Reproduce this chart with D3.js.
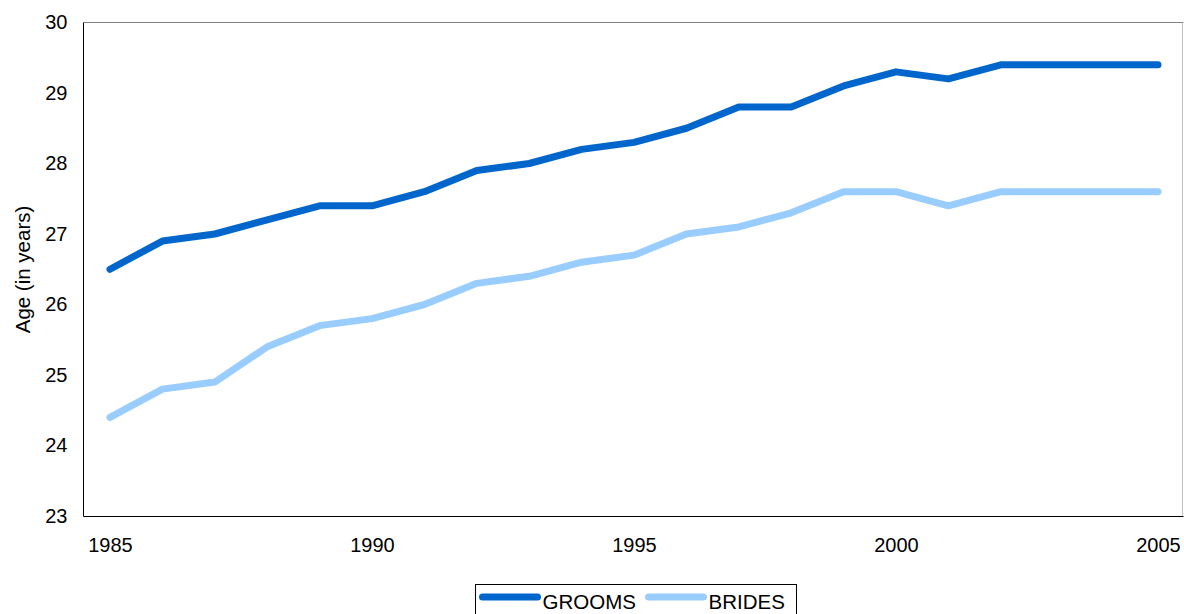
<!DOCTYPE html>
<html>
<head>
<meta charset="utf-8">
<script src="https://cdn.jsdelivr.net/npm/d3@7"></script>
<style>
  body { margin: 0; background: #fff; }
  text { font-family: "Liberation Sans", Arial, sans-serif; fill: #000; }
</style>
</head>
<body>
<script>
// data
const years = d3.range(1985, 2006);
const grooms = [26.5, 26.9, 27.0, 27.2, 27.4, 27.4, 27.6, 27.9, 28.0, 28.2, 28.3,
                28.5, 28.8, 28.8, 29.1, 29.3, 29.2, 29.4, 29.4, 29.4, 29.4];
const brides = [24.4, 24.8, 24.9, 25.4, 25.7, 25.8, 26.0, 26.3, 26.4, 26.6, 26.7,
                27.0, 27.1, 27.3, 27.6, 27.6, 27.4, 27.6, 27.6, 27.6, 27.6];
const yTicks = [23, 24, 25, 26, 27, 28, 29, 30];
const xTicks = [1985, 1990, 1995, 2000, 2005];
const seriesNames = ["GROOMS", "BRIDES"];
const seriesColors = ["#0066cc", "#99ccff"];

const width = 1184, height = 614;
const plot = {left: 83.5, right: 1183.5, top: 22.5, bottom: 516.5};

const svg = d3.select("body").append("svg")
  .attr("width", width)
  .attr("height", height);

const x = d3.scaleLinear().domain([1985, 2005]).range([110, 1158]);
const y = d3.scaleLinear().domain([23, 30]).range([516, 22.5]);

// frame
svg.append("line").attr("x1", plot.left).attr("x2", plot.right)
  .attr("y1", plot.top).attr("y2", plot.top).attr("stroke", "#808080");
svg.append("line").attr("x1", plot.right - 1).attr("x2", plot.right - 1)
  .attr("y1", plot.top).attr("y2", plot.bottom).attr("stroke", "#c0c0c0");

// axes
const yAxis = svg.append("g")
  .attr("transform", `translate(${plot.left},0)`)
  .call(d3.axisLeft(y).tickValues(yTicks).tickSize(0).tickPadding(16).tickFormat(d3.format("d")));
yAxis.select(".domain").attr("stroke", "#000").attr("d", `M0,${plot.top}V${plot.bottom}`);
yAxis.selectAll("text").style("font-size", "20px");

const xAxis = svg.append("g")
  .attr("transform", `translate(0,${plot.bottom})`)
  .call(d3.axisBottom(x).tickValues(xTicks).tickSize(0).tickPadding(21).tickFormat(d3.format("d")));
xAxis.select(".domain").attr("stroke", "#000").attr("d", `M${plot.left},0H${plot.right}`);
xAxis.selectAll("text").style("font-size", "20px");

svg.append("text")
  .attr("transform", `translate(30,${(plot.top + plot.bottom) / 2}) rotate(-90)`)
  .attr("text-anchor", "middle")
  .style("font-size", "20.5px")
  .text("Age (in years)");

// lines
const line = d3.line().x((d, i) => x(years[i])).y(d => y(d));
[grooms, brides].forEach((s, k) => {
  svg.append("path")
    .datum(s)
    .attr("d", line)
    .attr("fill", "none")
    .attr("stroke", seriesColors[k])
    .attr("stroke-width", 7)
    .attr("stroke-linejoin", "round")
    .attr("stroke-linecap", "round");
});

// legend
const legend = svg.append("g").attr("transform", "translate(475.5,584.5)");
legend.append("rect").attr("width", 321).attr("height", 40)
  .attr("fill", "#fff").attr("stroke", "#000");
const items = [{x: 7, tx: 67}, {x: 173, tx: 233}];
items.forEach((it, k) => {
  legend.append("line").attr("x1", it.x).attr("x2", it.x + 55)
    .attr("y1", 12.5).attr("y2", 12.5)
    .attr("stroke", seriesColors[k]).attr("stroke-width", 7)
    .attr("stroke-linecap", "round");
  legend.append("text").attr("x", it.tx).attr("y", 24.5)
    .style("font-size", "20.5px").text(seriesNames[k]);
});
</script>
</body>
</html>
